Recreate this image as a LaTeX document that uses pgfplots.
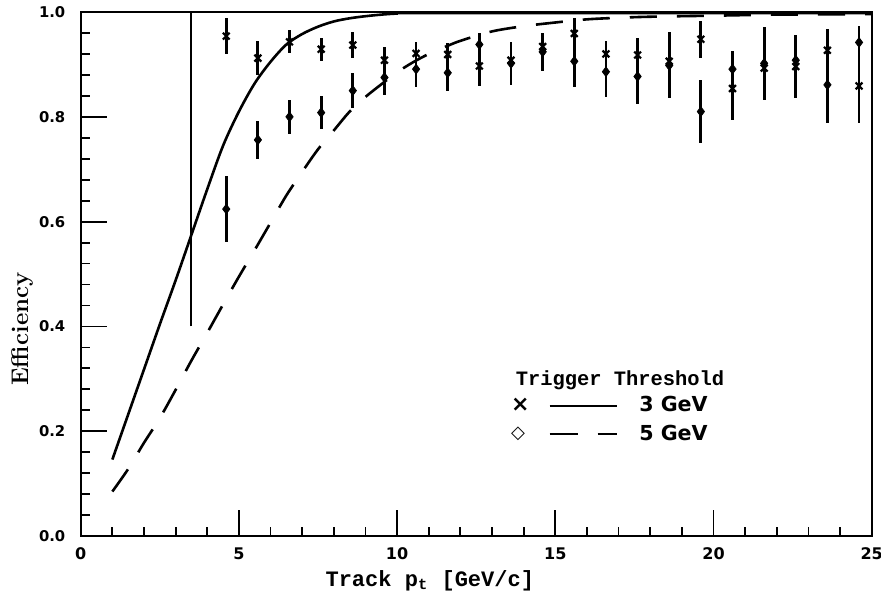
\documentclass[border=0pt]{standalone}
\usepackage{pgfplots}
\pgfplotsset{compat=1.18}
\usepackage{pgfplotstable}
\usepackage{fontspec}
\newfontfamily\monob{Liberation Mono}
\newfontfamily\djv{DejaVu Sans}

\pgfplotstableread{
x y e
4.6 0.954 0.035
5.6 0.912 0.032
6.6 0.943 0.022
7.6 0.929 0.022
8.6 0.937 0.024
9.6 0.908 0.025
10.6 0.921 0.022
11.6 0.919 0.022
12.6 0.897 0.038
13.6 0.908 0.028
14.6 0.934 0.022
15.6 0.959 0.030
16.6 0.920 0.025
17.6 0.918 0.032
18.6 0.906 0.034
19.6 0.948 0.035
20.6 0.854 0.061
21.6 0.893 0.044
22.6 0.896 0.061
23.6 0.927 0.040
24.6 0.859 0.070
}\threegev

\pgfplotstableread{
x y e
4.6 0.624 0.063
5.6 0.756 0.036
6.6 0.800 0.033
7.6 0.808 0.032
8.6 0.850 0.033
9.6 0.875 0.033
10.6 0.891 0.035
11.6 0.884 0.034
12.6 0.938 0.022
13.6 0.902 0.041
14.6 0.924 0.036
15.6 0.906 0.050
16.6 0.886 0.049
17.6 0.877 0.053
18.6 0.898 0.063
19.6 0.810 0.060
20.6 0.891 0.035
21.6 0.902 0.070
22.6 0.908 0.040
23.6 0.861 0.072
24.6 0.942 0.031
}\fivegev

\begin{document}
\begin{tikzpicture}
\begin{axis}[
  scale only axis,
  width=395pt, height=261.7pt,
  xmin=0, xmax=25, ymin=0, ymax=1,
  xtick={0,5,...,25},
  ytick={0,0.2,...,1.0},
  minor x tick num=4,
  minor y tick num=4,
  tick align=inside,
  xtick pos=bottom, ytick pos=left,
  major tick length=13pt,
  minor tick length=4.7pt,
  every tick/.style={black, line width=0.9pt},
  axis line style={line width=1pt},
  yticklabel style={/pgf/number format/fixed, /pgf/number format/fixed zerofill, /pgf/number format/precision=1,
    font=\djv\bfseries\fontsize{7.4}{9}\selectfont, inner sep=0pt, anchor=east, xshift=-7.5pt},
  xticklabel style={font=\djv\bfseries\fontsize{8}{9}\selectfont, inner sep=0pt, anchor=north, yshift=-5.5pt},
  /pgf/number format/assume math mode=true,
  xlabel={\monob\bfseries\fontsize{11}{12}\selectfont Track p\textsubscript{t} [GeV/c]},
  ylabel={\bfseries\fontsize{12}{13}\selectfont Efficiency},
  xlabel style={at={(axis description cs:0.309,-0.0954)}, anchor=base west, inner sep=0pt},
  ylabel style={at={(axis description cs:-0.06,0.395)}, anchor=south, inner sep=0pt},
  legend style={at={(axis cs:13.59,0.2215)}, anchor=west, draw=none, fill=none,
    font=\djv\bfseries\fontsize{10.3}{12}\selectfont, inner sep=0pt, row sep=5pt,
    nodes={inner sep=0pt}},
  legend cell align=left,
]
\coordinate (sw) at (rel axis cs:0,0);
\coordinate (ne) at (rel axis cs:1,1);
% threshold marker line
\addplot[black, line width=1pt, forget plot] coordinates {(3.5,0.4) (3.5,1.0)};
% fitted curves
\addplot[black, line width=1.3pt, smooth, forget plot] coordinates {
(1,0.146) (1.5,0.232) (2,0.318) (2.5,0.404) (3,0.488) (3.5,0.575) (4,0.662) (4.5,0.745) (5,0.81) (5.5,0.864) (6,0.905) (6.5,0.938) (7,0.958) (7.5,0.972) (8,0.982) (8.5,0.988) (9,0.992) (9.5,0.995) (10,0.997) (11,0.998) (25,0.998)};
\addplot[black, line width=1.3pt, smooth, dash pattern=on 13.5pt off 10pt, forget plot] coordinates {
(1,0.085) (1.5,0.128) (2,0.178) (2.5,0.225) (3,0.279) (3.5,0.335) (4,0.388) (4.5,0.442) (5,0.495) (5.5,0.546) (6,0.598) (6.5,0.65) (7,0.695) (7.5,0.738) (8,0.774) (8.5,0.810) (9,0.838) (9.5,0.862) (10,0.885) (10.5,0.904) (11,0.92) (11.5,0.933) (12,0.945) (13,0.963) (14,0.973) (15,0.98) (16,0.986) (17,0.989) (18,0.991) (20,0.993) (22,0.995) (25,0.996)};
% data
\addplot[black, forget plot, only marks, mark=x, mark size=2.4pt, mark options={line width=1.1pt},
  error bars/.cd, y dir=both, y explicit, error bar style={line width=1.4pt}, error mark=none]
  table[x=x, y=y, y error=e] {\threegev};
\addplot[black, forget plot, only marks, mark=diamond*, mark size=2.4pt,
  error bars/.cd, y dir=both, y explicit, error bar style={line width=1.4pt}, error mark=none]
  table[x=x, y=y, y error=e] {\fivegev};
% legend
\addlegendimage{legend image code/.code={
  \node[inner sep=0pt, font=\djv\bfseries\fontsize{11}{11}\selectfont] at (0pt,0pt) {×};
  \draw[black, line width=1.2pt] (19.4pt,0pt) -- (53.3pt,0pt);
  \path (64pt,0pt);}}
\addlegendentry{3 GeV}
\addlegendimage{legend image code/.code={
  \node[inner sep=0pt, font=\djv\bfseries\fontsize{9}{9}\selectfont] at (0pt,0pt) {◇};
  \draw[black, line width=1.2pt, dash pattern=on 14pt off 10pt] (19.4pt,0pt) -- (53.3pt,0pt);
  \path (64pt,0pt);}}
\addlegendentry{5 GeV}
\node[anchor=base west, inner sep=0pt, font=\monob\bfseries\fontsize{10.2}{12}\selectfont] at (axis cs:13.74,0.288) {Trigger Threshold};
\end{axis}
\pgfresetboundingbox
\useasboundingbox ([xshift=-40.3pt,yshift=-29pt]sw) rectangle ([xshift=4.64pt,yshift=6pt]ne);
\end{tikzpicture}
\end{document}
